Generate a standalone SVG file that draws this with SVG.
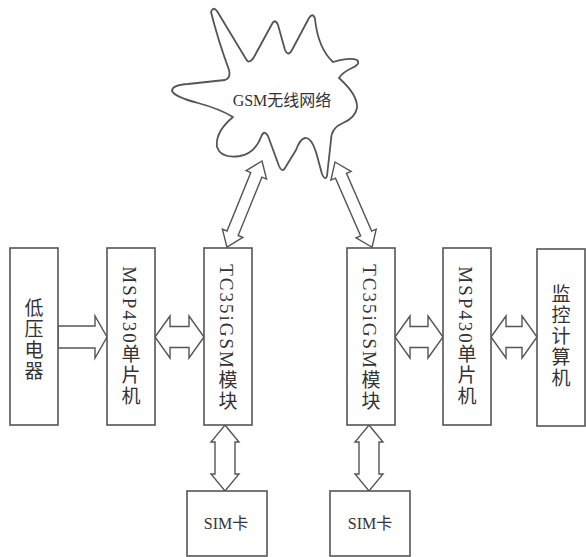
<svg xmlns="http://www.w3.org/2000/svg" width="586" height="557" viewBox="0 0 586 557">
<style>
.box{fill:#fff;stroke:#555;stroke-width:1.6}
.arr{fill:#fff;stroke:#555;stroke-width:1.4;stroke-linejoin:miter}
.cloud{fill:#fff;stroke:#555;stroke-width:1.8;stroke-linejoin:round}
.vt{font-family:"Liberation Serif","Noto Sans CJK SC",serif;font-size:19px;fill:#333;writing-mode:vertical-rl;text-anchor:middle;letter-spacing:2px}
.ht{font-family:"Liberation Serif","Noto Sans CJK SC",serif;font-size:16px;fill:#333;text-anchor:middle}
</style>
<rect width="586" height="557" fill="#fff"/>
<g id="connectors">
<polygon class="arr" points="58,326 95,326 95,316 107,337 95,358 95,348 58,348"/>
<polygon class="arr" points="155,337 170,316 170,326.5 189,326.5 189,316 204,337 189,358 189,347.5 170,347.5 170,358"/>
<polygon class="arr" points="395,337 410,316 410,326.5 428,326.5 428,316 443,337 428,358 428,347.5 410,347.5 410,358"/>
<polygon class="arr" points="491,337 506,316 506,326.5 522,326.5 522,316 537,337 522,358 522,347.5 506,347.5 506,358"/>
<polygon class="arr" points="225,425 239,442 235,442 235,474 239,474 225,491 211,474 215,474 215,442 211,442"/>
<polygon class="arr" points="369,425 383,442 379,442 379,474 383,474 369,491 355,474 359,474 359,442 355,442"/>
<polygon class="arr" transform="translate(262,161) rotate(112.15)" points="0,0 15,-11 15,-6 78,-6 78,-11 93,0 78,11 78,6 15,6 15,11"/>
<polygon class="arr" transform="translate(335,162) rotate(66.48)" points="0,0 15,-11 15,-6 78,-6 78,-11 93,0 78,11 78,6 15,6 15,11"/>
</g>
<g id="cloud">
<path class="cloud" d="M 211,12 Q 213,6 217,11 L 246,59 Q 249,65 254,57 L 272,24 Q 275,18 278,25 L 285,50 Q 288,57 292,50 L 309,18 Q 313,12 315,19 Q 318,48 333,62 Q 350,57 357,60 Q 361,64 352,68 Q 343,72 339,78 Q 358,95 357,108 Q 355,118 343,123 Q 331,128 331,140 L 327,176 Q 325,181 322,174 L 316,152 Q 311,137 305,138 Q 300,139 296,150 L 285,168 Q 282,173 279,166 L 268,136 Q 264,129 261,137 Q 255,153 240,156 Q 221,159 217,147 Q 215,132 233,117 Q 220,109 198,103 Q 175,97 172,91 Q 172,85 188,84 L 225,80 Q 231,78 229,70 Q 218,40 211,12 Z"/>
<text class="ht" x="282" y="106">GSM无线网络</text>
</g>
<g id="n-dianqi">
<rect class="box" x="10" y="248" width="48" height="177"/>
<text class="vt" x="32" y="340">低压电器</text>
</g>
<g id="n-msp-left">
<rect class="box" x="107" y="248" width="48" height="177"/>
<text class="vt" x="129" y="337">MSP430单片机</text>
</g>
<g id="n-tc35-left">
<rect class="box" x="204" y="248" width="48" height="177"/>
<text class="vt" x="226" y="338">TC35iGSM模块</text>
</g>
<g id="n-tc35-right">
<rect class="box" x="347" y="248" width="48" height="177"/>
<text class="vt" x="369" y="338">TC35iGSM模块</text>
</g>
<g id="n-msp-right">
<rect class="box" x="443" y="248" width="48" height="177"/>
<text class="vt" x="465" y="337">MSP430单片机</text>
</g>
<g id="n-jiankong">
<rect class="box" x="537" y="249" width="48" height="177"/>
<text class="vt" x="559" y="337">监控计算机</text>
</g>
<g id="n-sim-left">
<rect class="box" x="187" y="491" width="80" height="65"/>
<text class="ht" x="226" y="529">SIM卡</text>
</g>
<g id="n-sim-right">
<rect class="box" x="330" y="491" width="80" height="65"/>
<text class="ht" x="370" y="529">SIM卡</text>
</g>
</svg>
